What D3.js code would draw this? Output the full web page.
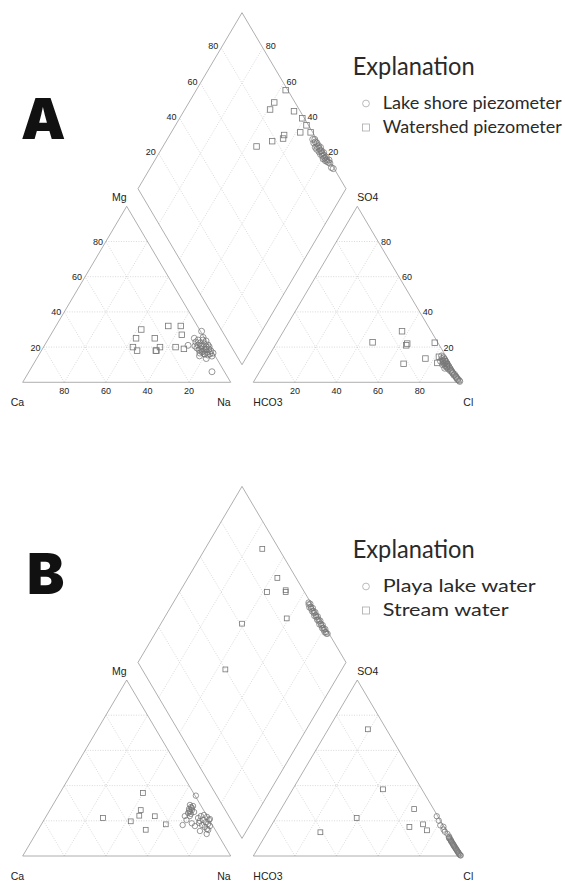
<!DOCTYPE html>
<html>
<head>
<meta charset="utf-8">
<script src="https://cdn.jsdelivr.net/npm/d3@7"></script>
<style>
  body { margin: 0; background: #fff; }
  svg { display: block; }
</style>
</head>
<body>
<svg id="chart" width="565" height="882"></svg>
<script>
// tick values on the ternary axes
const tickValues = [20, 40, 60, 80];

// ---- Panel A ----
// cation triangle: [Mg %, Na+K %]   (Ca = rest)
const lakeShoreCation = [
    [21, 69], [25, 70], [29, 71.5], [25.5, 74], [15, 77.5], [13.5, 81.5], [6, 88],
    [22.9, 71.8], [21.2, 73.7], [22.3, 74.0], [20.6, 75.9], [21.8, 76.3], [20.1, 78.1],
    [21.2, 78.5], [19.5, 74.0], [18.4, 75.6], [18.9, 76.2], [17.8, 77.8], [18.4, 78.4],
    [17.2, 80.0], [18.9, 80.1], [17.8, 81.6], [16.6, 76.9], [16.1, 79.2], [15.5, 81.3],
    [16.1, 82.0], [14.9, 83.5], [24.0, 72.3], [24.0, 74.7], [23.5, 76.4], [20.6, 72.5],
    [17.2, 77.6], [18.9, 78.6], [20.1, 79.6], [16.6, 83.2], [20.6, 75.4], [16.1, 79.6]
];
const watershedCation = [
    [30, 42], [25, 42], [20, 43], [18, 46], [25, 51], [20, 56],
    [18, 55], [18, 55.3], [32, 54], [32, 60], [27, 63], [20, 63.5], [19, 68]
];
// anion triangle: [SO4 %, Cl %]   (HCO3 = rest)
const lakeShoreAnion = [
    [15, 83], [14, 84.5], [13.5, 84], [13, 85.5], [12.5, 85], [12, 86.5], [11.5, 85.5],
    [11, 87], [10.5, 86.5], [10, 88.5], [9.5, 87.5], [9, 89.5], [8.5, 89], [8, 90.5],
    [7.5, 90], [7, 91.5], [6.5, 91.5], [6, 92.5], [5.5, 93], [5, 93.5], [4.5, 94.5],
    [4, 94.5], [3.5, 95.5], [3, 96], [2.5, 96.5], [2, 97.2], [1.5, 97.5], [1, 98.5],
    [0.5, 99], [12, 84], [10, 86], [8, 88]
];
const watershedAnion = [
    [22.7, 46], [29, 57], [22, 63], [21, 63], [22.5, 76], [10.5, 67],
    [13.5, 76], [14.5, 82], [11, 83], [12, 86], [10.4, 87.8], [9, 88.5]
];
// diamond: [Ca+Mg %, SO4+Cl %]
const lakeShoreDiamond = [
    [30, 98], [29, 99], [28.5, 97.5], [28, 98.5], [27, 99], [26.5, 97], [26, 98],
    [25.5, 99], [25.3, 97.1], [24.5, 98.5], [24, 99.5], [23.5, 97.5], [23, 98.5],
    [22.5, 99], [22, 97.5], [21.5, 98.5], [21, 99.5], [20.5, 98], [20, 99], [19.5, 97.5],
    [19, 98.5], [18.5, 99.5], [18, 98], [17.5, 99], [17, 98.5], [16.3, 100], [16, 99],
    [15, 99.5], [13, 99], [11.8, 99.6]
];
const watershedDiamond = [
    [57, 99], [59, 90], [59, 86], [47, 97], [41, 99], [37, 99],
    [33, 99], [38, 94], [45, 85.5], [44.5, 84], [49, 78], [55, 69]
];

// ---- Panel B ----
const playaCation = [
    [29.0, 65.9], [27.8, 67.0], [26.7, 66.6], [26.1, 68.3], [25.0, 67.9], [28.4, 67.7],
    [23.9, 68.9], [25.6, 67.2], [27.3, 67.7], [22.7, 69.0], [25.0, 69.9], [24.4, 67.3],
    [21.6, 73.5], [22.7, 74.3], [23.3, 75.5], [22.2, 77.5], [20.5, 79.3], [19.9, 75.2],
    [20.5, 76.4], [19.3, 78.4], [18.2, 80.0], [17.0, 81.5], [16.5, 79.3], [17.6, 77.4],
    [18.8, 75.4], [15.3, 80.9], [34.3, 66.1], [17.6, 68.1], [20.5, 68.5], [18.6, 72.0],
    [17.0, 74.3], [14.2, 78.1], [12.5, 82.2], [14.8, 81.8], [21.0, 79.5], [22.7, 66.6]
];
const streamCation = [
    [35.8, 39.9], [26.1, 43.7], [22.9, 44.6], [22.6, 52.2],
    [21.6, 27.8], [19.7, 42.1], [18, 59.8], [14.9, 51.7]
];
const playaAnion = [
    [22.6, 76.9], [20.1, 79.1], [17.4, 81.2], [16.6, 83.1], [15, 84], [13.8, 85.2],
    [12.5, 87.1], [11, 88.7], [10.5, 88.8], [10, 89.2], [9.5, 89.9], [9, 90.5],
    [8.5, 90.8], [8, 91.3], [7.5, 91.9], [7, 92.4], [6.4, 92.9], [6, 93.5], [5.5, 93.8],
    [5, 94.4], [4.5, 95], [4, 95.4], [3.5, 96], [3, 96.5], [2.5, 97], [2, 97.6],
    [1.5, 98], [1, 98.6], [0.5, 99.2], [0.3, 99.6]
];
const streamAnion = [
    [72, 19.1], [37.9, 43.4], [21.6, 38.9], [13.5, 25.5],
    [26.7, 64], [16.5, 66.8], [18, 72.6], [14.6, 76.2]
];
const playaDiamond = [
    [35, 99], [34.4, 98.5], [33.8, 99.5], [33.2, 98], [32.6, 99], [32, 98.5], [31.4, 99.5],
    [30.8, 98.2], [30.2, 99], [29.6, 98.5], [29, 99.5], [28.4, 98], [27.8, 99], [27.2, 98.6],
    [26.6, 99.5], [26, 98.2], [25.4, 99], [24.8, 98.5], [24.2, 99.5], [23.6, 98], [23, 99],
    [22.4, 98.6], [21.8, 99.4], [21.2, 98.2], [20.6, 99], [20, 98.5], [19.4, 99.5],
    [18.8, 98.3], [18.2, 99], [17.6, 98.7], [17, 99.3]
];
const streamDiamond = [
    [72.5, 92], [57, 91], [58, 82], [49, 91], [49.5, 91.5], [41, 84], [61, 61], [56, 40]
];

// ---- layout ----
const svg = d3.select("#chart");
const W = 208, H = 176, GAP = 22.6, X0 = 22.7;
const gridColor = "#c8c8c8", frameColor = "#9a9a9a", markColor = "#777";
const tickFont = "Liberation Sans, Arial, sans-serif";
const legendFont = "Lato, 'Open Sans', sans-serif";

function drawPiper(base, opts) {
    const g = svg.append("g");
    const xL = d3.scaleLinear().domain([0, 100]).range([X0, X0 + W]);
    const xR = d3.scaleLinear().domain([0, 100]).range([X0 + W + GAP, X0 + 2 * W + GAP]);
    const yT = d3.scaleLinear().domain([0, 100]).range([base, base - H]);
    const bx = X0 + W + GAP / 2, by = base - 0.1 * H;
    const xD = d3.scaleLinear().domain([-50, 50]).range([bx - W / 2, bx + W / 2]);
    const yD = d3.scaleLinear().domain([0, 100]).range([by, by - H]);

    const cat = (mg, na) => [xL(na + mg / 2), yT(mg)];
    const an = (so4, cl) => [xR(cl + so4 / 2), yT(so4)];
    const dia = (cm, sc) => [xD((sc - cm) / 2), yD(cm + sc)];

    // grid lines
    const grid = [];
    tickValues.forEach(v => {
        grid.push([cat(v, 0), cat(v, 100 - v)]);
        grid.push([cat(0, v), cat(100 - v, v)]);
        grid.push([cat(0, 100 - v), cat(100 - v, 0)]);
        grid.push([an(v, 0), an(v, 100 - v)]);
        grid.push([an(0, v), an(100 - v, v)]);
        grid.push([an(0, 100 - v), an(100 - v, 0)]);
        grid.push([dia(v, 0), dia(v, 100)]);
        grid.push([dia(0, v), dia(100, v)]);
    });
    g.append("g").selectAll("line")
        .data(grid)
        .enter().append("line")
        .attr("x1", d => d[0][0]).attr("y1", d => d[0][1])
        .attr("x2", d => d[1][0]).attr("y2", d => d[1][1])
        .attr("stroke", gridColor)
        .attr("stroke-width", 0.7)
        .attr("stroke-dasharray", "1,1.5");

    // frames
    const frames = [
        [cat(0, 0), cat(0, 100), cat(100, 0)],
        [an(0, 0), an(0, 100), an(100, 0)],
        [dia(0, 0), dia(100, 0), dia(100, 100), dia(0, 100)]
    ];
    g.append("g").selectAll("path")
        .data(frames)
        .enter().append("path")
        .attr("d", d => d3.line()(d) + "Z")
        .attr("fill", "none")
        .attr("stroke", frameColor)
        .attr("stroke-width", 0.8);

    // tick labels (panel A only)
    if (opts.ticks) {
        const labels = [];
        tickValues.forEach(v => {
            labels.push({ p: [xL(100 - v), base + 12], t: v, a: "middle", dy: 0 });
            labels.push({ p: [cat(v, 0)[0] - 3, cat(v, 0)[1]], t: v, a: "end", dy: 3.5 });
            labels.push({ p: [xR(v), base + 12], t: v, a: "middle", dy: 0 });
            labels.push({ p: [an(v, 100 - v)[0] + 3, an(v, 100 - v)[1]], t: v, a: "start", dy: 3.5 });
            labels.push({ p: [dia(100, v)[0] - 3, dia(100, v)[1]], t: v, a: "end", dy: 1.5 });
            labels.push({ p: [dia(v, 100)[0] + 3, dia(v, 100)[1]], t: v, a: "start", dy: 1.5 });
        });
        g.append("g").selectAll("text")
            .data(labels)
            .enter().append("text")
            .attr("x", d => d.p[0])
            .attr("y", d => d.p[1] + d.dy)
            .attr("text-anchor", d => d.a)
            .attr("font-family", tickFont)
            .attr("font-size", 9)
            .attr("fill", "#222")
            .text(d => d.t);
    }

    // corner labels
    const corners = [
        { t: "Mg", x: cat(100, 0)[0], y: yT(100) - 5, a: "end" },
        { t: "Ca", x: xL(0) - 12, y: base + 24, a: "start" },
        { t: "Na", x: xL(100), y: base + 24, a: "end" },
        { t: "SO4", x: an(100, 0)[0], y: yT(100) - 5, a: "start" },
        { t: "HCO3", x: xR(0), y: base + 24, a: "start" },
        { t: "Cl", x: xR(100) + 2, y: base + 24, a: "start" }
    ];
    g.append("g").selectAll("text")
        .data(corners)
        .enter().append("text")
        .attr("x", d => d.x).attr("y", d => d.y)
        .attr("text-anchor", d => d.a)
        .attr("font-family", tickFont)
        .attr("font-size", 10.5)
        .attr("fill", "#222")
        .text(d => d.t);

    // data marks
    const circlePts = opts.circle.cation.map(d => cat(d[0], d[1]))
        .concat(opts.circle.anion.map(d => an(d[0], d[1])))
        .concat(opts.circle.diamond.map(d => dia(d[0], d[1])));
    const squarePts = opts.square.cation.map(d => cat(d[0], d[1]))
        .concat(opts.square.anion.map(d => an(d[0], d[1])))
        .concat(opts.square.diamond.map(d => dia(d[0], d[1])));

    g.append("g").selectAll("rect")
        .data(squarePts)
        .enter().append("rect")
        .attr("x", d => d[0] - opts.sq / 2)
        .attr("y", d => d[1] - opts.sq / 2)
        .attr("width", opts.sq).attr("height", opts.sq)
        .attr("fill", "none")
        .attr("stroke", markColor)
        .attr("stroke-width", 0.8);

    g.append("g").selectAll("circle")
        .data(circlePts)
        .enter().append("circle")
        .attr("cx", d => d[0]).attr("cy", d => d[1])
        .attr("r", opts.r)
        .attr("fill", "none")
        .attr("stroke", markColor)
        .attr("stroke-width", 0.75);

    // panel letter
    g.append("text")
        .attr("x", opts.letterX).attr("y", opts.letterY)
        .attr("font-family", "Inter, Lato, sans-serif")
        .attr("font-weight", 900)
        .attr("font-size", 56)
        .attr("fill", "#111")
        .text(opts.letter);

    // legend
    const leg = g.append("g").attr("transform", `translate(0,${opts.legendY})`);
    leg.append("text")
        .attr("x", 352.7).attr("y", 0)
        .attr("font-family", legendFont)
        .attr("font-size", 24.5)
        .attr("textLength", 122)
        .attr("lengthAdjust", "spacingAndGlyphs")
        .attr("fill", "#2a2a2a")
        .text("Explanation");
    leg.append("circle")
        .attr("cx", 366).attr("cy", 28.5).attr("r", 3.4)
        .attr("fill", "none").attr("stroke", "#aaa").attr("stroke-width", 0.8);
    leg.append("rect")
        .attr("x", 362.5).attr("y", 49).attr("width", 7).attr("height", 7)
        .attr("fill", "none").attr("stroke", "#aaa").attr("stroke-width", 0.8);
    leg.selectAll("text.item")
        .data(opts.legendNames)
        .enter().append("text")
        .attr("class", "item")
        .attr("x", 382.7)
        .attr("y", (d, i) => 33.5 + i * 24)
        .attr("font-family", legendFont)
        .attr("font-size", 17)
        .attr("textLength", (d, i) => opts.legendWidths[i])
        .attr("lengthAdjust", "spacingAndGlyphs")
        .attr("fill", "#2a2a2a")
        .text(d => d);
}

drawPiper(382.3, {
    ticks: true, r: 3, sq: 5.5,
    circle: { cation: lakeShoreCation, anion: lakeShoreAnion, diamond: lakeShoreDiamond },
    square: { cation: watershedCation, anion: watershedAnion, diamond: watershedDiamond },
    letter: "A", letterX: 21, letterY: 139,
    legendY: 75, legendNames: ["Lake shore piezometer", "Watershed piezometer"],
    legendWidths: [179, 179]
});

drawPiper(856, {
    ticks: false, r: 2.7, sq: 4.8,
    circle: { cation: playaCation, anion: playaAnion, diamond: playaDiamond },
    square: { cation: streamCation, anion: streamAnion, diamond: streamDiamond },
    letter: "B", letterX: 27, letterY: 594,
    legendY: 558, legendNames: ["Playa lake water", "Stream water"],
    legendWidths: [153, 126]
});
</script>
</body>
</html>
